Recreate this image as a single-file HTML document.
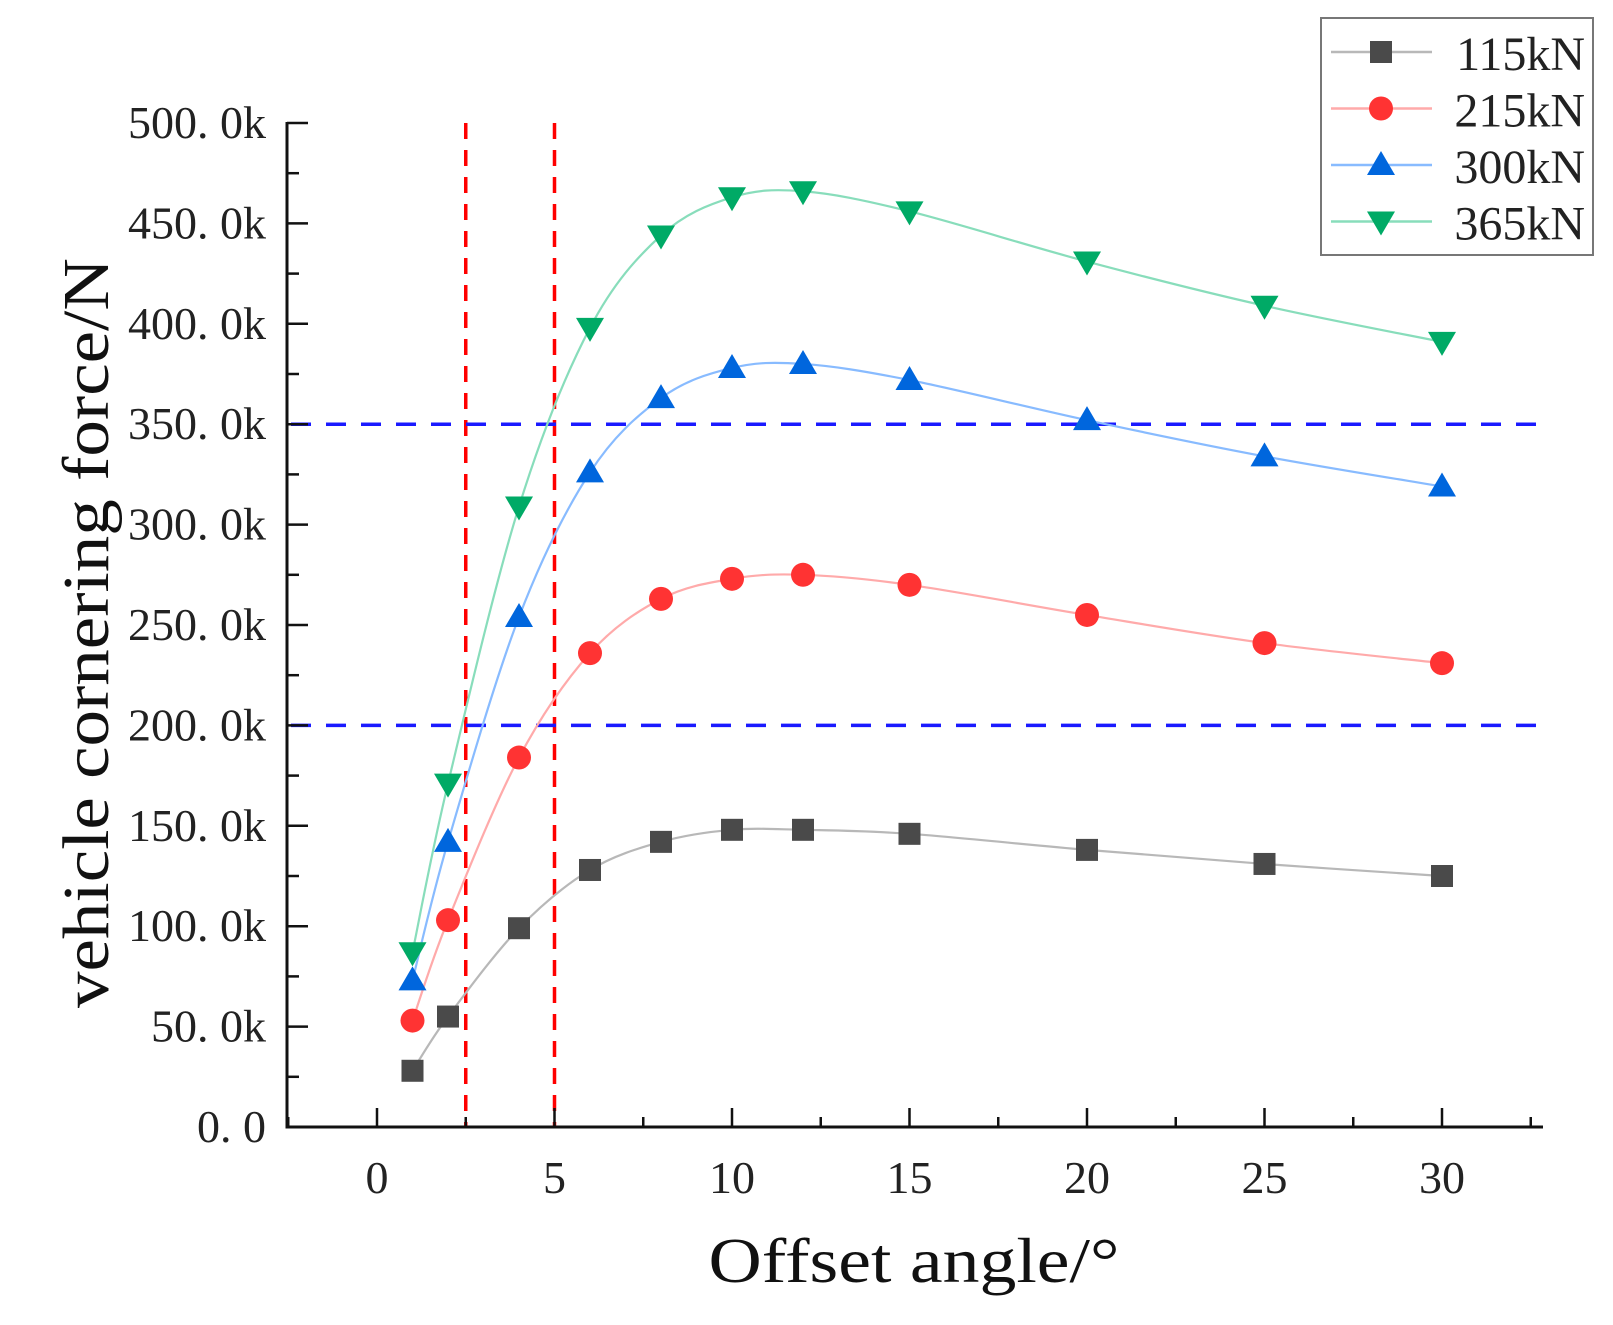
<!DOCTYPE html>
<html><head><meta charset="utf-8"><style>
html,body{margin:0;padding:0;background:#fff}
svg{display:block}
text{font-family:"Liberation Serif",serif;fill:#222}
</style></head><body>
<svg id="chart" width="1613" height="1325" viewBox="0 0 1613 1325" xmlns="http://www.w3.org/2000/svg">
<g id="grid"></g><g id="axes"></g><g id="series"></g><g id="legend"></g>
<text transform="translate(108,633) rotate(-90)" text-anchor="middle" font-size="66" textLength="750" lengthAdjust="spacingAndGlyphs" style="fill:#111">vehicle cornering force/N</text>
<text x="914" y="1282" text-anchor="middle" font-size="64" textLength="411" lengthAdjust="spacingAndGlyphs" style="fill:#111">Offset angle/°</text>
</svg>
<script>
const xValues=[1,2,4,6,8,10,12,15,20,25,30];
const s115=[28,55,99,128,142,148,148,146,138,131,125];
const s215=[53,103,184,236,263,273,275,270,255,241,231];
const s300=[73,142,254,326,363,378,380,372,352,334,319];
const s365=[87,171,309,398,444,463,466,456,431,409,391];
const seriesNames=["115kN","215kN","300kN","365kN"];
const xTicks=[0,5,10,15,20,25,30];
const yTicks=[0,50,100,150,200,250,300,350,400,450,500];
const yTickLabels=["0. 0","50. 0k","100. 0k","150. 0k","200. 0k","250. 0k","300. 0k","350. 0k","400. 0k","450. 0k","500. 0k"];
const vRefs=[2.5,5];
const hRefs=[200,350];

const NS="http://www.w3.org/2000/svg";
const X0=377,PX=35.5,Y0=1127,PY=(1127-123)/500;
const AXL=287,AXR=1543;
const sx=v=>X0+v*PX, sy=v=>Y0-v*PY;
function mk(tag,attrs,parent){const e=document.createElementNS(NS,tag);for(const k in attrs)e.setAttribute(k,attrs[k]);parent.appendChild(e);return e;}
const grid=document.getElementById('grid'),axes=document.getElementById('axes'),ser=document.getElementById('series'),leg=document.getElementById('legend');

vRefs.forEach(v=>{const l=mk('line',{x1:sx(v),x2:sx(v),y1:123,y2:Y0,stroke:'#ff0000','stroke-width':3.5,'stroke-dasharray':'16 11'},grid);

});
hRefs.forEach(v=>{const l=mk('line',{x1:AXL+4,x2:AXR,y1:sy(v),y2:sy(v),stroke:'#1a1aff','stroke-width':3.5,'stroke-dasharray':'20 15'},grid);

});

const ya=mk('line',{x1:AXL,x2:AXL,y1:122,y2:Y0+1.5,stroke:'#111','stroke-width':3},axes);


const xa=mk('line',{x1:AXL,x2:AXR,y1:Y0,y2:Y0,stroke:'#111','stroke-width':3},axes);


for(let v=0;v<=500;v+=25){const major=v%50===0;mk('line',{x1:AXL,x2:AXL+(major?21:12),y1:sy(v),y2:sy(v),stroke:'#111','stroke-width':2.5},axes);}
yTicks.forEach((v,i)=>{const t=mk('text',{x:266,y:sy(v)+15,'text-anchor':'end','font-size':46},axes);t.textContent=yTickLabels[i];

});
for(let v=-2.5;v<=32.5;v+=2.5){const major=v%5===0;const x=sx(v);if(x<AXL||x>AXR)continue;mk('line',{x1:x,x2:x,y1:Y0,y2:Y0-(major?19:10),stroke:'#111','stroke-width':2.5},axes);}
xTicks.forEach(v=>{const t=mk('text',{x:sx(v),y:1193,'text-anchor':'middle','font-size':46},axes);t.textContent=v;

});

const colors=[['#4a4a4a','#b8b8b8'],['#ff3333','#ffaaaa'],['#0066dd','#88bbff'],['#00aa66','#88ddbb']];
const shapes=['square','circle','up','down'];
function marker(shape,x,y,c,p){
 if(shape==='square')return mk('rect',{x:x-11,y:y-11,width:22,height:22,fill:c},p);
 if(shape==='circle')return mk('circle',{cx:x,cy:y,r:12,fill:c},p);
 if(shape==='up')return mk('polygon',{points:`${x},${y-14} ${x+14},${y+10} ${x-14},${y+10}`,fill:c},p);
 return mk('polygon',{points:`${x},${y+14} ${x+14},${y-10} ${x-14},${y-10}`,fill:c},p);
}
function spline(pts){let d=`M${pts[0][0]},${pts[0][1]}`;for(let i=0;i<pts.length-1;i++){const p0=pts[i-1]||pts[i],p1=pts[i],p2=pts[i+1],p3=pts[i+2]||p2;
 const c1=[p1[0]+(p2[0]-p0[0])/6,p1[1]+(p2[1]-p0[1])/6],c2=[p2[0]-(p3[0]-p1[0])/6,p2[1]-(p3[1]-p1[1])/6];
 d+=` C${c1[0]},${c1[1]} ${c2[0]},${c2[1]} ${p2[0]},${p2[1]}`;}return d;}
[s115,s215,s300,s365].forEach((s,k)=>{
 const g=mk('g',{},ser);
 
 
 const pts=xValues.map((x,i)=>[sx(x),sy(s[i])]);
 mk('path',{d:spline(pts),fill:'none',stroke:colors[k][1],'stroke-width':2.2},g);
 pts.forEach(p=>{const m=marker(shapes[k],p[0],p[1],colors[k][0],g);
  
  });
});

const box=mk('rect',{x:1321,y:18,width:272,height:237,fill:'#fff',stroke:'#777','stroke-width':2},leg);


seriesNames.forEach((n,k)=>{const y=52+k*56.5;
 const g=mk('g',{},leg);
 
 
 mk('line',{x1:1331,x2:1432,y1:y,y2:y,stroke:colors[k][1],'stroke-width':2.5},g);
 marker(shapes[k],1381,y,colors[k][0],g);
 const t=mk('text',{x:1585,y:y+18,'text-anchor':'end','font-size':48},g);t.textContent=n;});
</script>
</body></html>
